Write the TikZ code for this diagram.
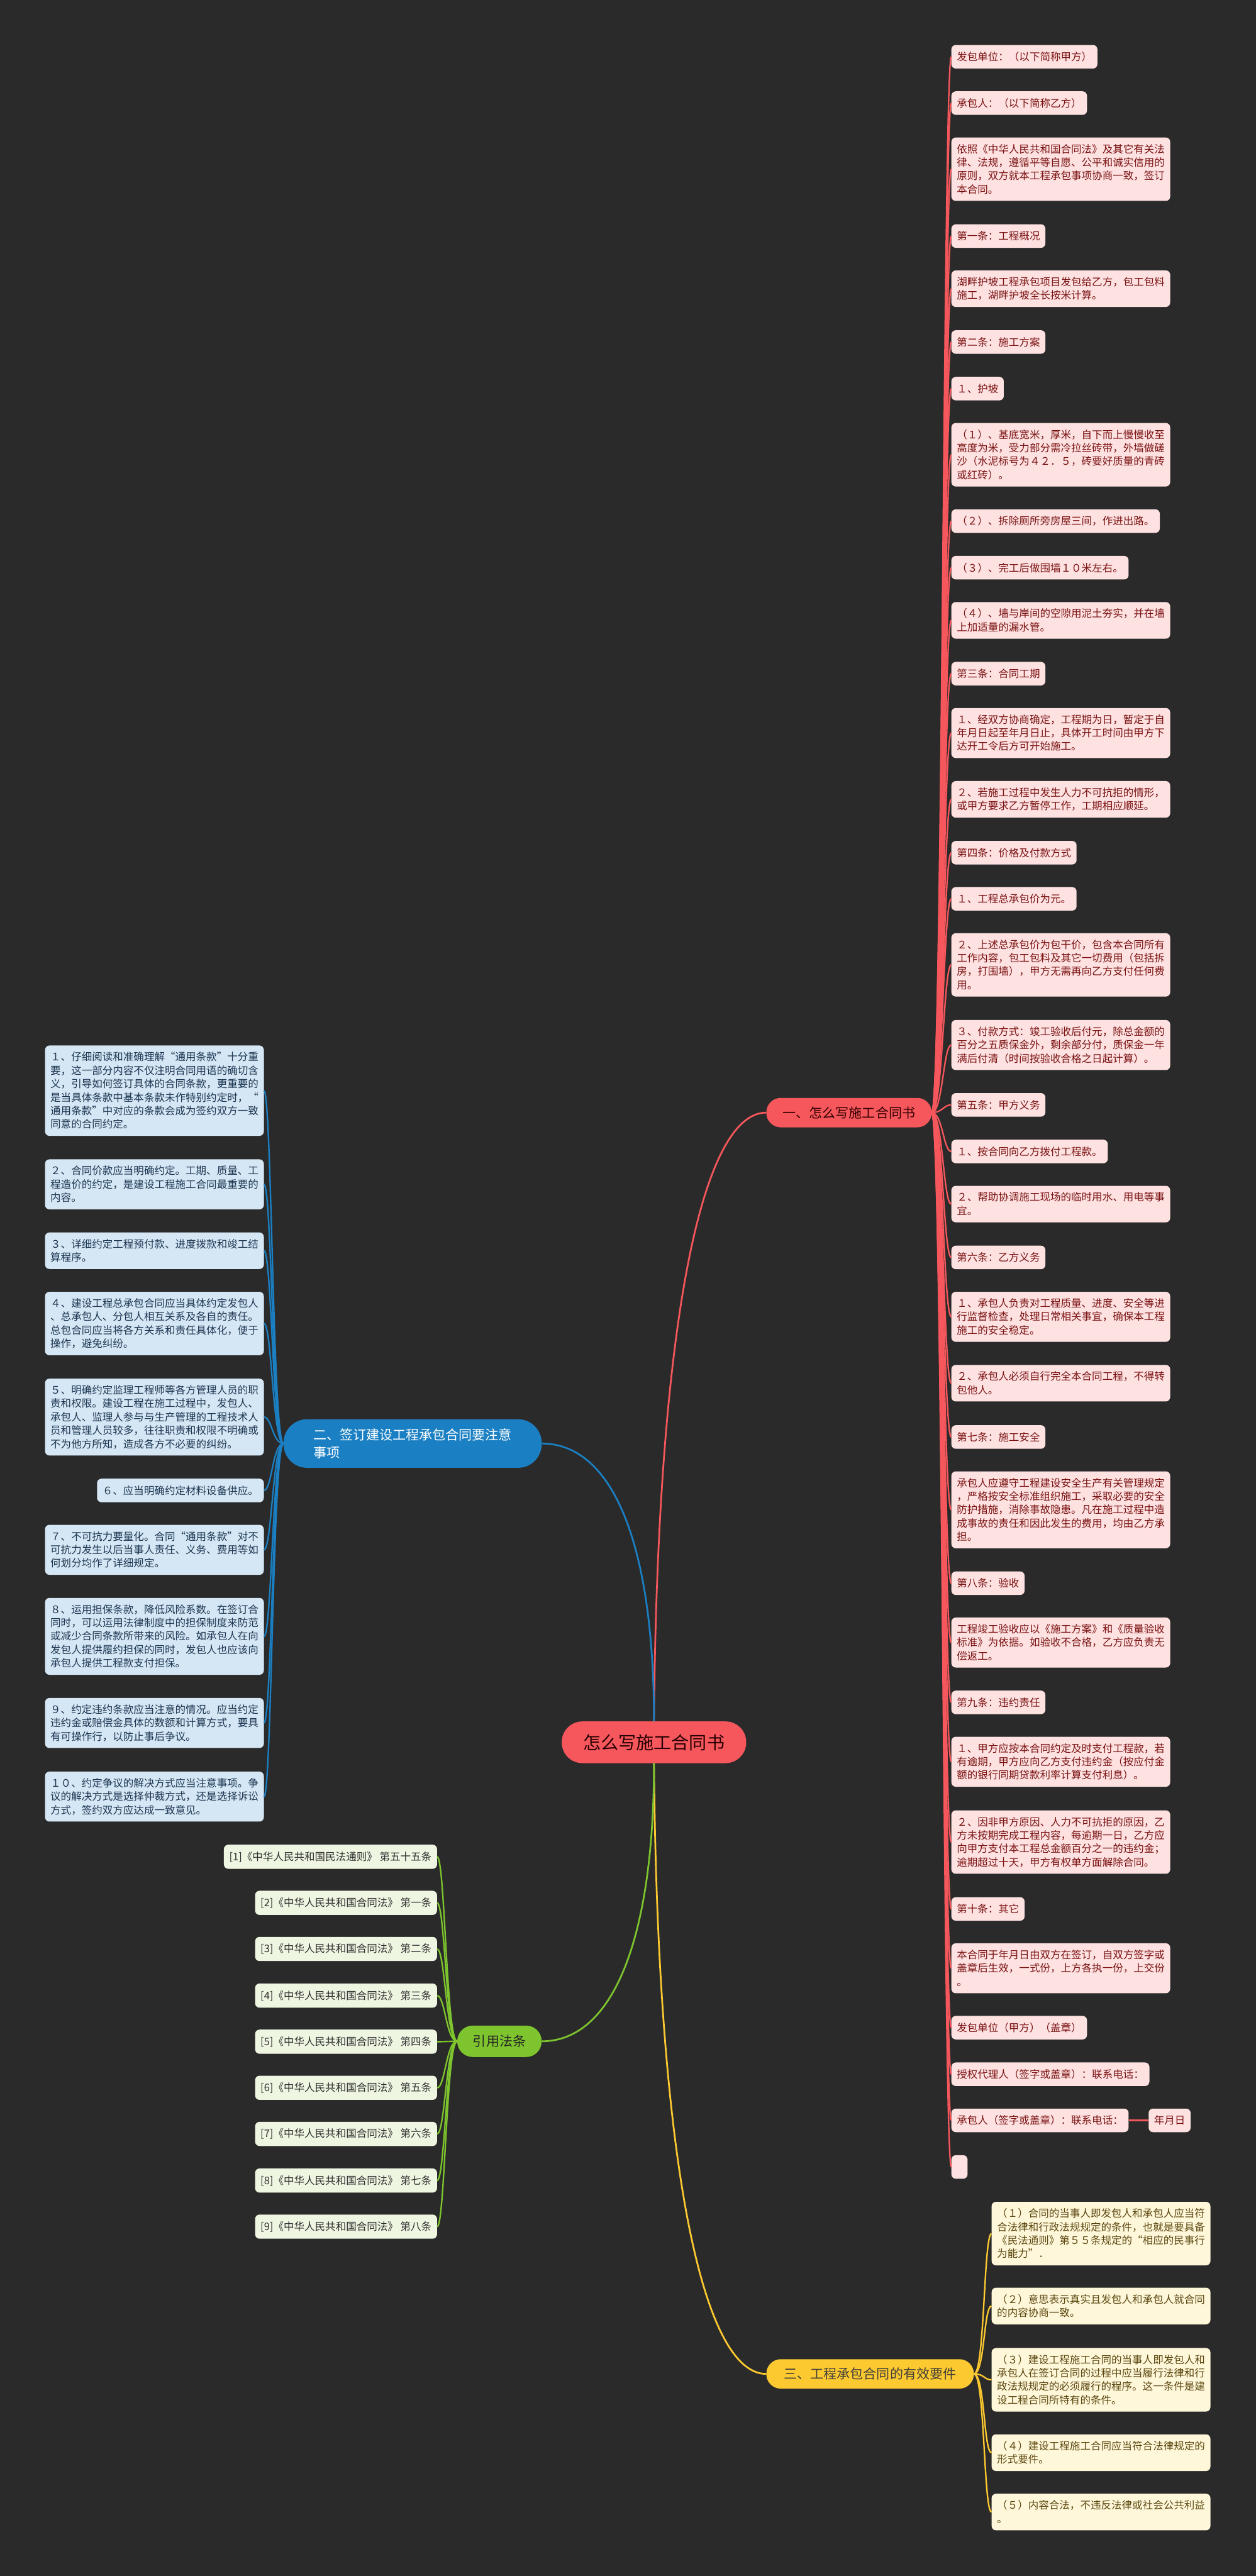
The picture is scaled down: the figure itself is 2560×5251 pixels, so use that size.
\documentclass[tikz,border=0pt]{standalone}
\usepackage{fontspec}
\setmainfont{Noto Sans CJK SC}
\definecolor{bg}{HTML}{2A2A2A}
\definecolor{red1}{HTML}{F6575C}
\definecolor{pinkf}{HTML}{FEE1E1}
\definecolor{pinkt}{HTML}{7A1212}
\definecolor{blue1}{HTML}{1B80C3}
\definecolor{bluef}{HTML}{D5E7F5}
\definecolor{bluet}{HTML}{1C3550}
\definecolor{yel1}{HTML}{FCC931}
\definecolor{yelf}{HTML}{FFF7D9}
\definecolor{yelt}{HTML}{5A4710}
\definecolor{grn1}{HTML}{7EC42E}
\definecolor{grnf}{HTML}{EEF6E2}
\definecolor{grnt}{HTML}{2E2E2E}
\newcommand\mystrut{\vrule width 0pt height 18.8pt depth 2.4pt}
\newcommand\rb[3]{\draw[#1] (#2.east) .. controls ([xshift=22pt]#2.east) and ([xshift=-16pt]#3.west) .. (#3.west);}
\newcommand\lb[3]{\draw[#1] (#2.west) .. controls ([xshift=-22pt]#2.west) and ([xshift=16pt]#3.east) .. (#3.east);}
\begin{document}
\begin{tikzpicture}[x=1pt,y=-1pt,
  leaf/.style={rounded corners=9pt, align=left, inner xsep=11pt, inner ysep=13.4pt,
    font=\fontsize{21.2pt}{27.4pt}\selectfont, execute at begin node=\mystrut, execute at end node=\mystrut},
  pk/.style={leaf, fill=pinkf, text=pinkt, anchor=north west},
  bl/.style={leaf, fill=bluef, text=bluet, anchor=north east},
  yl/.style={leaf, fill=yelf, text=yelt, anchor=north west},
  gr/.style={leaf, fill=grnf, text=grnt, anchor=north east},
  rl/.style={draw=red1, line width=3pt},
  bll/.style={draw=blue1, line width=3pt},
  yll/.style={draw=yel1, line width=3pt},
  grl/.style={draw=grn1, line width=3pt},
  main/.style={font=\fontsize{27pt}{36pt}\selectfont, inner sep=0pt}
]
\useasboundingbox (0,0) rectangle (2560,5251);
\fill[bg] (0,0) rectangle (2560,5251);

% main nodes
\node[main, fill=red1, text=black!85!red, minimum width=376pt, minimum height=85pt, rounded corners=42pt, font=\fontsize{36pt}{40pt}\selectfont] (c) at (1333,3551.5) {怎么写施工合同书};
\node[main, fill=red1, text=black!80!red, minimum width=337pt, minimum height=60pt, rounded corners=29.5pt] (one) at (1730.5,2268) {一、怎么写施工合同书};
\node[main, fill=blue1, text=white, minimum width=526pt, minimum height=99pt, rounded corners=48pt, align=left] (two) at (841,2942.5) {二、签订建设工程承包合同要注意\\事项};
\node[main, fill=yel1, text=black!85!yellow, minimum width=423pt, minimum height=60pt, rounded corners=29.5pt] (three) at (1773.5,4839) {三、工程承包合同的有效要件};
\node[main, fill=grn1, text=black!85, minimum width=172pt, minimum height=64pt, rounded corners=31.5pt] (law) at (1018,4161) {引用法条};

\draw[red1, line width=3.5pt] (c.north) .. controls (1340,2700) and (1430,2268) .. (one.west);
\draw[blue1, line width=3.5pt] (c.north) .. controls (1333,3150) and (1250,2942.5) .. (two.east);
\draw[yel1, line width=3.5pt] (c.south) .. controls (1340,4400) and (1430,4839) .. (three.west);
\draw[grn1, line width=3.5pt] (c.south) .. controls (1333,3950) and (1250,4161) .. (law.east);

% right pink column
\node[pk] (r1) at (1939,91.5) {发包单位：（以下简称甲方）};
\node[pk] (r2) at (1939,186) {承包人：（以下简称乙方）};
\node[pk] (r3) at (1939,280) {依照《中华人民共和国合同法》及其它有关法\\律、法规，遵循平等自愿、公平和诚实信用的\\原则，双方就本工程承包事项协商一致，签订\\本合同。};
\node[pk] (r4) at (1939,457) {第一条：工程概况};
\node[pk] (r5) at (1939,551) {湖畔护坡工程承包项目发包给乙方，包工包料\\施工，湖畔护坡全长按米计算。};
\node[pk] (r6) at (1939,673) {第二条：施工方案};
\node[pk] (r7) at (1939,768) {１、护坡};
\node[pk] (r8) at (1939,862) {（１）、基底宽米，厚米，自下而上慢慢收至\\高度为米，受力部分需冷拉丝砖带，外墙做磋\\沙（水泥标号为４２．５，砖要好质量的青砖\\或红砖）。};
\node[pk] (r9) at (1939,1038) {（２）、拆除厕所旁房屋三间，作进出路。};
\node[pk] (r10) at (1939,1133) {（３）、完工后做围墙１０米左右。};
\node[pk] (r11) at (1939,1227) {（４）、墙与岸间的空隙用泥土夯实，并在墙\\上加适量的漏水管。};
\node[pk] (r12) at (1939,1349) {第三条：合同工期};
\node[pk] (r13) at (1939,1443) {１、经双方协商确定，工程期为日，暂定于自\\年月日起至年月日止，具体开工时间由甲方下\\达开工令后方可开始施工。};
\node[pk] (r14) at (1939,1592) {２、若施工过程中发生人力不可抗拒的情形，\\或甲方要求乙方暂停工作，工期相应顺延。};
\node[pk] (r15) at (1939,1714) {第四条：价格及付款方式};
\node[pk] (r16) at (1939,1808) {１、工程总承包价为元。};
\node[pk] (r17) at (1939,1902) {２、上述总承包价为包干价，包含本合同所有\\工作内容，包工包料及其它一切费用（包括拆\\房，打围墙），甲方无需再向乙方支付任何费\\用。};
\node[pk] (r18) at (1939,2079) {３、付款方式：竣工验收后付元，除总金额的\\百分之五质保金外，剩余部分付，质保金一年\\满后付清（时间按验收合格之日起计算）。};
\node[pk] (r19) at (1939,2228) {第五条：甲方义务};
\node[pk] (r20) at (1939,2323) {１、按合同向乙方拨付工程款。};
\node[pk] (r21) at (1939,2417) {２、帮助协调施工现场的临时用水、用电等事\\宜。};
\node[pk] (r22) at (1939,2539) {第六条：乙方义务};
\node[pk] (r23) at (1939,2633) {１、承包人负责对工程质量、进度、安全等进\\行监督检查，处理日常相关事宜，确保本工程\\施工的安全稳定。};
\node[pk] (r24) at (1939,2782) {２、承包人必须自行完全本合同工程，不得转\\包他人。};
\node[pk] (r25) at (1939,2905) {第七条：施工安全};
\node[pk] (r26) at (1939,2999) {承包人应遵守工程建设安全生产有关管理规定\\，严格按安全标准组织施工，采取必要的安全\\防护措施，消除事故隐患。凡在施工过程中造\\成事故的责任和因此发生的费用，均由乙方承\\担。};
\node[pk] (r27) at (1939,3203) {第八条：验收};
\node[pk] (r28) at (1939,3297) {工程竣工验收应以《施工方案》和《质量验收\\标准》为依据。如验收不合格，乙方应负责无\\偿返工。};
\node[pk] (r29) at (1939,3446) {第九条：违约责任};
\node[pk] (r30) at (1939,3540) {１、甲方应按本合同约定及时支付工程款，若\\有逾期，甲方应向乙方支付违约金（按应付金\\额的银行同期贷款利率计算支付利息）。};
\node[pk] (r31) at (1939,3690) {２、因非甲方原因、人力不可抗拒的原因，乙\\方未按期完成工程内容，每逾期一日，乙方应\\向甲方支付本工程总金额百分之一的违约金；\\逾期超过十天，甲方有权单方面解除合同。};
\node[pk] (r32) at (1939,3867) {第十条：其它};
\node[pk] (r33) at (1939,3961) {本合同于年月日由双方在签订，自双方签字或\\盖章后生效，一式份，上方各执一份，上交份\\。};
\node[pk] (r34) at (1939,4109) {发包单位（甲方）（盖章）};
\node[pk] (r35) at (1939,4204) {授权代理人（签字或盖章）：联系电话：};
\node[pk] (r36) at (1939,4298) {承包人（签字或盖章）：联系电话：};
\node[pk] (r37) at (2341,4298) {年月日};
\node[pk, minimum width=33pt, minimum height=48pt, inner xsep=0pt, execute at begin node={}, execute at end node={}] (r38) at (1939,4393) {};

\foreach \i in {1,...,36,38} {\rb{rl}{one}{r\i}}
\draw[rl] (r36.east) -- (r37.west);

% left blue column
\node[bl] (l1) at (538,2131) {１、仔细阅读和准确理解“通用条款”十分重\\要，这一部分内容不仅注明合同用语的确切含\\义，引导如何签订具体的合同条款，更重要的\\是当具体条款中基本条款未作特别约定时，“\\通用条款”中对应的条款会成为签约双方一致\\同意的合同约定。};
\node[bl] (l2) at (538,2363) {２、合同价款应当明确约定。工期、质量、工\\程造价的约定，是建设工程施工合同最重要的\\内容。};
\node[bl] (l3) at (538,2512) {３、详细约定工程预付款、进度拨款和竣工结\\算程序。};
\node[bl] (l4) at (538,2633) {４、建设工程总承包合同应当具体约定发包人\\、总承包人、分包人相互关系及各自的责任。\\总包合同应当将各方关系和责任具体化，便于\\操作，避免纠纷。};
\node[bl] (l5) at (538,2810) {５、明确约定监理工程师等各方管理人员的职\\责和权限。建设工程在施工过程中，发包人、\\承包人、监理人参与与生产管理的工程技术人\\员和管理人员较多，往往职责和权限不明确或\\不为他方所知，造成各方不必要的纠纷。};
\node[bl] (l6) at (538,3014) {６、应当明确约定材料设备供应。};
\node[bl] (l7) at (538,3108) {７、不可抗力要量化。合同“通用条款”对不\\可抗力发生以后当事人责任、义务、费用等如\\何划分均作了详细规定。};
\node[bl] (l8) at (538,3257) {８、运用担保条款，降低风险系数。在签订合\\同时，可以运用法律制度中的担保制度来防范\\或减少合同条款所带来的风险。如承包人在向\\发包人提供履约担保的同时，发包人也应该向\\承包人提供工程款支付担保。};
\node[bl] (l9) at (538,3461) {９、约定违约条款应当注意的情况。应当约定\\违约金或赔偿金具体的数额和计算方式，要具\\有可操作行，以防止事后争议。};
\node[bl] (l10) at (538,3611) {１０、约定争议的解决方式应当注意事项。争\\议的解决方式是选择仲裁方式，还是选择诉讼\\方式，签约双方应达成一致意见。};
\foreach \i in {1,...,10} {\lb{bll}{two}{l\i}}

% references
\node[gr] (g1) at (891,3760) {[1]《中华人民共和国民法通则》 第五十五条};
\node[gr] (g2) at (891,3854) {[2]《中华人民共和国合同法》 第一条};
\node[gr] (g3) at (891,3948) {[3]《中华人民共和国合同法》 第二条};
\node[gr] (g4) at (891,4043) {[4]《中华人民共和国合同法》 第三条};
\node[gr] (g5) at (891,4137) {[5]《中华人民共和国合同法》 第四条};
\node[gr] (g6) at (891,4231) {[6]《中华人民共和国合同法》 第五条};
\node[gr] (g7) at (891,4325) {[7]《中华人民共和国合同法》 第六条};
\node[gr] (g8) at (891,4420) {[8]《中华人民共和国合同法》 第七条};
\node[gr] (g9) at (891,4514) {[9]《中华人民共和国合同法》 第八条};
\foreach \i in {1,...,9} {\lb{grl}{law}{g\i}}

% yellow column
\node[yl] (y1) at (2021,4488) {（１）合同的当事人即发包人和承包人应当符\\合法律和行政法规规定的条件，也就是要具备\\《民法通则》第５５条规定的“相应的民事行\\为能力”．};
\node[yl] (y2) at (2021,4663) {（２）意思表示真实且发包人和承包人就合同\\的内容协商一致。};
\node[yl] (y3) at (2021,4786) {（３）建设工程施工合同的当事人即发包人和\\承包人在签订合同的过程中应当履行法律和行\\政法规规定的必须履行的程序。这一条件是建\\设工程合同所特有的条件。};
\node[yl] (y4) at (2021,4962) {（４）建设工程施工合同应当符合法律规定的\\形式要件。};
\node[yl] (y5) at (2021,5083) {（５）内容合法，不违反法律或社会公共利益\\。};
\foreach \i in {1,...,5} {\rb{yll}{three}{y\i}}
\end{tikzpicture}
\end{document}
